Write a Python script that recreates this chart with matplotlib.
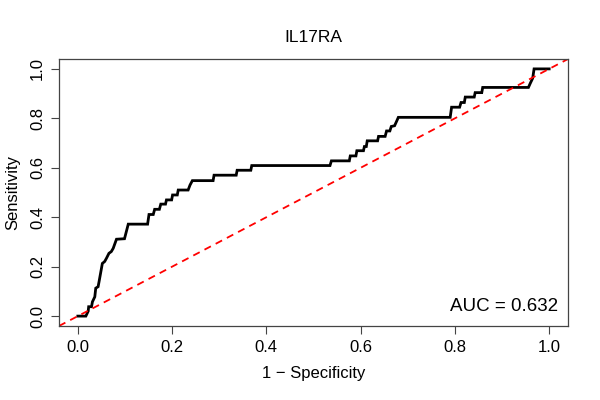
import numpy as np
import matplotlib
matplotlib.use("Agg")
import matplotlib.pyplot as plt

plt.rcParams['font.family'] = ['Liberation Sans', 'DejaVu Sans']

# ROC curve points (1 - specificity, sensitivity)
fpr = [0.0, 0.017, 0.022, 0.023, 0.029, 0.031, 0.036, 0.038, 0.043, 0.045,
       0.052, 0.057, 0.061, 0.066, 0.071, 0.075, 0.082, 0.099, 0.107, 0.148,
       0.151, 0.160, 0.163, 0.173, 0.176, 0.186, 0.188, 0.199, 0.201, 0.211,
       0.213, 0.234, 0.238, 0.243, 0.287, 0.289, 0.336, 0.338, 0.367, 0.369,
       0.535, 0.538, 0.576, 0.578, 0.590, 0.592, 0.606, 0.608, 0.612, 0.614,
       0.636, 0.638, 0.652, 0.655, 0.662, 0.665, 0.672, 0.677, 0.680, 0.790,
       0.793, 0.810, 0.813, 0.820, 0.822, 0.841, 0.843, 0.857, 0.859, 0.956,
       0.960, 0.965, 0.968, 1.0]
tpr = [0.0, 0.0, 0.020, 0.038, 0.038, 0.058, 0.078, 0.113, 0.119, 0.139,
       0.213, 0.221, 0.235, 0.254, 0.261, 0.274, 0.311, 0.313, 0.372, 0.372,
       0.411, 0.411, 0.432, 0.432, 0.453, 0.453, 0.470, 0.470, 0.490, 0.490,
       0.510, 0.510, 0.530, 0.548, 0.548, 0.570, 0.570, 0.590, 0.590, 0.609,
       0.609, 0.628, 0.628, 0.648, 0.648, 0.669, 0.669, 0.686, 0.686, 0.709,
       0.709, 0.727, 0.727, 0.749, 0.749, 0.767, 0.770, 0.791, 0.804, 0.804,
       0.845, 0.845, 0.864, 0.864, 0.886, 0.886, 0.904, 0.904, 0.925, 0.925,
       0.942, 0.962, 1.0, 1.0]
auc = 0.632
ticks = [0.0, 0.2, 0.4, 0.6, 0.8, 1.0]

fig = plt.figure(figsize=(6, 4), dpi=100)
ax = fig.add_axes([0.0983, 0.185, 0.8484, 0.6675])

ax.plot(fpr, tpr, color='black', lw=2.0, solid_joinstyle='miter')
ax.axline((0, 0), (1, 1), color='red', lw=1.3, ls=(0, (4, 3)))

ax.set_xlim(-0.04, 1.04)
ax.set_ylim(-0.04, 1.04)
ax.set_xticks(ticks)
ax.set_yticks(ticks)
ax.set_xticklabels([f"{t:.1f}" for t in ticks])
ax.set_yticklabels([f"{t:.1f}" for t in ticks], rotation=90, va='center')
ax.tick_params(length=6, width=0.8, labelsize=12, color='#444444', pad=4)
for s in ax.spines.values():
    s.set_linewidth(0.9)
    s.set_color('#444444')

ax.set_title("IL17RA", fontsize=12.5, pad=12)
ax.set_xlabel("1 \u2212 Specificity", fontsize=12, labelpad=8)
ax.set_ylabel("Sensitivity", fontsize=12, labelpad=7)
ax.text(1.02, 0.04, f"AUC = {auc:.3f}", fontsize=13.5, ha='right', va='center')

fig.savefig("out.png", dpi=100)
